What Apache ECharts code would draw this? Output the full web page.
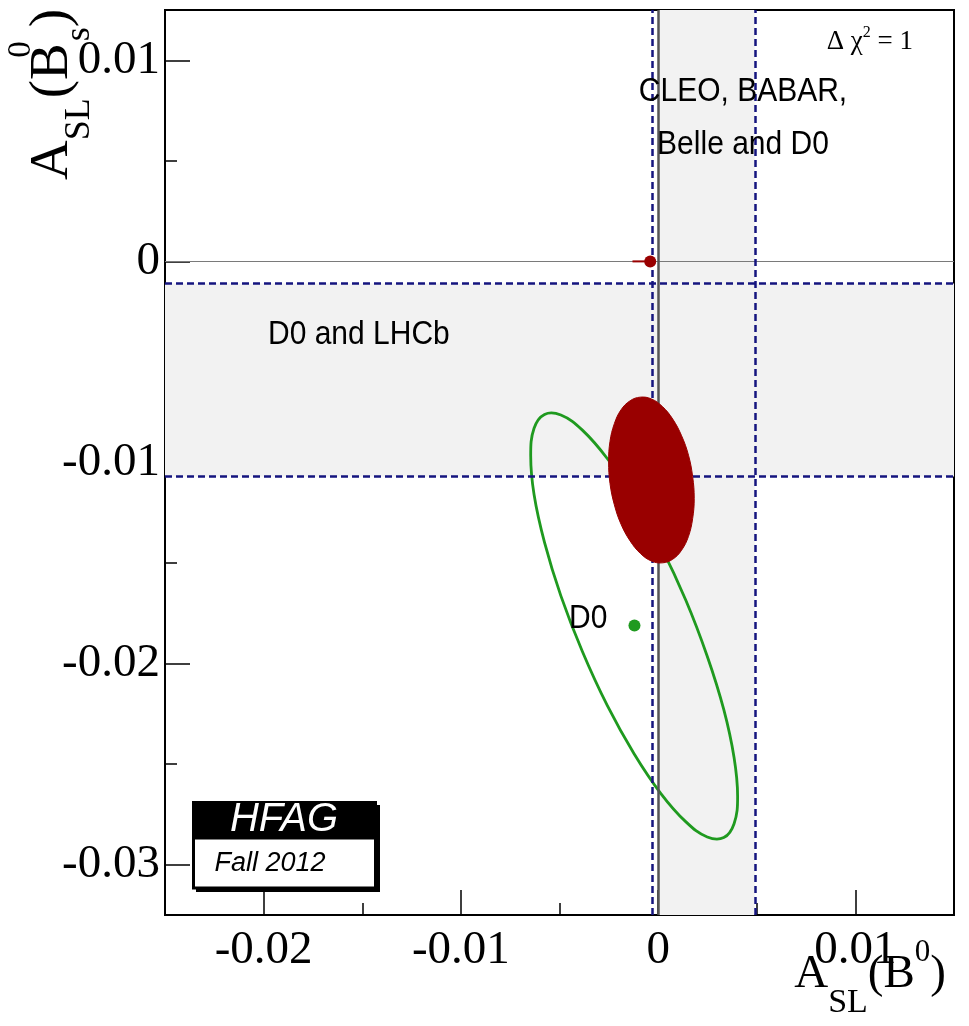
<!DOCTYPE html>
<html><head><meta charset="utf-8">
<script src="https://cdn.jsdelivr.net/npm/echarts@6/dist/echarts.min.js"></script>
<style>html,body{margin:0;padding:0;background:#fff}#c{width:969px;height:1026px}</style>
</head><body><div id="c"></div>
<script>
// ---- axes ----
const xRange = [-0.025, 0.015];
const yRange = [-0.0325, 0.0125];
const xMajorTicks = [-0.02, -0.01, 0, 0.01];
const xMajorLabels = ['-0.02', '-0.01', '0', '0.01'];
const xMinorTicks = [-0.015, -0.005, 0.005];
const yMajorTicks = [-0.03, -0.02, -0.01, 0, 0.01];
const yMajorLabels = ['-0.03', '-0.02', '-0.01', '0', '0.01'];
const yMinorTicks = [-0.025, -0.015, -0.005, 0.005];

// ---- measurements ----
const cleoBand = [-0.0003, 0.0049];      // A_SL(B0): CLEO, BABAR, Belle and D0
const d0LhcbBand = [-0.0107, -0.0011];   // A_SL(Bs): D0 and LHCb
const smPoint = [[-0.0004, 0.0]];
const smTail = [[-0.0013, 0.0], [-0.0004, 0.0]];
const d0Point = [[-0.0012, -0.0181]];
const d0Contour = [
  [0.00403,-0.02660],[0.00385,-0.02796],[0.00333,-0.02865],[0.00249,-0.02862],
  [0.00141,-0.02787],[0.00014,-0.02646],[-0.00122,-0.02448],[-0.00258,-0.02208],
  [-0.00384,-0.01940],[-0.00493,-0.01663],[-0.00576,-0.01397],[-0.00629,-0.01159],
  [-0.00646,-0.00966],[-0.00629,-0.00830],[-0.00576,-0.00761],[-0.00493,-0.00764],
  [-0.00384,-0.00839],[-0.00258,-0.00980],[-0.00122,-0.01177],[0.00014,-0.01418],
  [0.00141,-0.01686],[0.00249,-0.01963],[0.00333,-0.02229],[0.00385,-0.02467]
];
const combinedContour = [
  [0.00183,-0.01178],[0.00175,-0.01279],[0.00154,-0.01367],[0.00119,-0.01436],
  [0.00074,-0.01481],[0.00022,-0.01499],[-0.00034,-0.01490],[-0.00090,-0.01452],
  [-0.00142,-0.01390],[-0.00188,-0.01307],[-0.00222,-0.01210],[-0.00244,-0.01104],
  [-0.00251,-0.00996],[-0.00244,-0.00895],[-0.00222,-0.00807],[-0.00188,-0.00738],
  [-0.00142,-0.00693],[-0.00090,-0.00675],[-0.00034,-0.00684],[0.00022,-0.00722],
  [0.00074,-0.00784],[0.00119,-0.00867],[0.00154,-0.00964],[0.00175,-0.01070]
];

const RED = '#990000', GREEN = '#1f9a1f', NAVY = '#15157f', BAND = '#f2f2f2';
const SERIF = 'Liberation Serif', SANS = 'Liberation Sans';

function labelFor(ticks, labels) {
  return v => { const i = ticks.findIndex(t => Math.abs(t - v) < 1e-9); return i >= 0 ? labels[i] : ''; };
}
function contour(points, fill, stroke, lw) {
  return function (params, api) {
    if (params.dataIndex !== 0) return null;
    return { type: 'polygon', shape: { points: points.map(p => api.coord(p)), smooth: 0.4 },
             style: { fill: fill, stroke: stroke, lineWidth: lw } };
  };
}

const chart = echarts.init(document.getElementById('c'), null, { renderer: 'canvas' });
const tickStyle = { color: '#000', width: 1.5 };
function xAx(extra) { return Object.assign({ type: 'value', min: xRange[0], max: xRange[1], position: 'bottom', splitLine: { show: false } }, extra); }
function yAx(extra) { return Object.assign({ type: 'value', min: yRange[0], max: yRange[1], position: 'left', splitLine: { show: false } }, extra); }
chart.setOption({
  animation: false,
  backgroundColor: '#fff',
  grid: { left: 165, top: 10, right: 15, bottom: 111, show: true, borderColor: '#000', borderWidth: 2, backgroundColor: 'transparent' },
  xAxis: [
    xAx({ axisLine: { show: true, onZero: false, lineStyle: { color: '#000', width: 2 } },
      axisTick: { show: true, inside: true, length: 25, lineStyle: tickStyle, customValues: xMajorTicks },
      axisLabel: { show: true, customValues: xMajorTicks, formatter: labelFor(xMajorTicks, xMajorLabels),
        fontFamily: SERIF, fontSize: 47, color: '#000', margin: 12 } }),
    xAx({ axisLine: { show: false, onZero: false }, axisLabel: { show: false },
      axisTick: { show: true, inside: true, length: 12, lineStyle: tickStyle, customValues: xMinorTicks } })
  ],
  yAxis: [
    yAx({ axisLine: { show: true, onZero: false, lineStyle: { color: '#000', width: 2 } },
      axisTick: { show: true, inside: true, length: 25, lineStyle: tickStyle, customValues: yMajorTicks },
      axisLabel: { show: true, customValues: yMajorTicks, formatter: labelFor(yMajorTicks, yMajorLabels),
        fontFamily: SERIF, fontSize: 47, color: '#000', margin: 5 } }),
    yAx({ axisLine: { show: false, onZero: false }, axisLabel: { show: false },
      axisTick: { show: true, inside: true, length: 12, lineStyle: tickStyle, customValues: yMinorTicks } })
  ],
  series: [
    { // bands
      type: 'line', data: [], z: 1, silent: true,
      markArea: { silent: true, itemStyle: { color: BAND, opacity: 1 },
        data: [
          [{ xAxis: 0 }, { xAxis: cleoBand[1] }],
          [{ yAxis: d0LhcbBand[1] }, { yAxis: d0LhcbBand[0] }]
        ] }
    },
    { // zero lines
      type: 'line', data: [], z: 2, silent: true,
      markLine: { silent: true, symbol: 'none', precision: 8, label: { show: false }, animation: false,
        data: [
          { yAxis: 0, lineStyle: { color: '#7a7a7a', width: 1.2, type: 'solid' } },
          { xAxis: 0, lineStyle: { color: '#555', width: 2.5, type: 'solid' } }
        ] }
    },
    { // band edges
      type: 'line', data: [], z: 3, silent: true,
      markLine: { silent: true, symbol: 'none', precision: 8, label: { show: false }, animation: false,
        lineStyle: { color: NAVY, width: 2.5, type: [7, 4] },
        data: [
          { xAxis: cleoBand[0] }, { xAxis: cleoBand[1] },
          { yAxis: d0LhcbBand[0] }, { yAxis: d0LhcbBand[1] }
        ] }
    },
    { type: 'custom', data: d0Contour, z: 4, silent: true, renderItem: contour(d0Contour, 'none', GREEN, 2.8) },
    { type: 'custom', data: combinedContour, z: 5, silent: true, renderItem: contour(combinedContour, RED, RED, 1) },
    { type: 'scatter', data: d0Point, z: 6, symbol: 'circle', symbolSize: 12, itemStyle: { color: GREEN, opacity: 1 }, silent: true },
    { type: 'line', data: smTail, z: 6, symbol: 'none', lineStyle: { color: RED, width: 2 }, silent: true },
    { type: 'scatter', data: smPoint, z: 7, symbol: 'circle', symbolSize: 12, itemStyle: { color: RED, opacity: 1 }, silent: true }
  ],
  graphic: [
    { type: 'text', z: 100, x: 913, y: 42, style: {
        text: '{a|Δ χ}{sup|2}{a| = 1}', align: 'right', verticalAlign: 'middle',
        rich: { a: { fontFamily: SERIF, fontSize: 27, lineHeight: 40, fill: '#000' },
                sup: { fontFamily: SERIF, fontSize: 16, height: 22, verticalAlign: 'top', fill: '#000' } } } },
    { type: 'text', z: 100, x: 743, y: 118, scaleY: 1.12, style: {
        text: 'CLEO, BABAR,\nBelle and D0', align: 'center', verticalAlign: 'middle',
        fontFamily: SANS, fontSize: 30, lineHeight: 47, fill: '#000' } },
    { type: 'text', z: 100, x: 268, y: 335, scaleY: 1.12, style: {
        text: 'D0 and LHCb', align: 'left', verticalAlign: 'middle', fontFamily: SANS, fontSize: 30, fill: '#000' } },
    { type: 'text', z: 100, x: 569, y: 619, scaleY: 1.12, style: {
        text: 'D0', align: 'left', verticalAlign: 'middle', fontFamily: SANS, fontSize: 30, fill: '#000' } },
    // HFAG logo
    { type: 'rect', z: 100, shape: { x: 196, y: 805, width: 184, height: 87 }, style: { fill: '#000' } },
    { type: 'rect', z: 101, shape: { x: 192, y: 801, width: 185, height: 37 }, style: { fill: '#000' } },
    { type: 'rect', z: 101, shape: { x: 193.5, y: 838, width: 182, height: 50 }, style: { fill: '#fff', stroke: '#000', lineWidth: 3 } },
    { type: 'text', z: 102, x: 284, y: 820, style: { text: 'HFAG', align: 'center', verticalAlign: 'middle',
        fontFamily: SANS, fontStyle: 'italic', fontSize: 40, fill: '#fff' } },
    { type: 'text', z: 102, x: 270, y: 863, style: { text: 'Fall 2012', align: 'center', verticalAlign: 'middle',
        fontFamily: SANS, fontStyle: 'italic', fontSize: 27, fill: '#000' } },
    // axis titles
    { type: 'text', z: 100, x: 946, y: 975, style: {
        text: '{a|A}{sub|SL}{a|(B}{sup|0}{a|)}', align: 'right', verticalAlign: 'middle',
        rich: { a: { fontFamily: SERIF, fontSize: 47, lineHeight: 100, fill: '#000' },
                sub: { fontFamily: SERIF, fontSize: 34, height: 44, verticalAlign: 'bottom', fill: '#000' },
                sup: { fontFamily: SERIF, fontSize: 31, height: 56, verticalAlign: 'top', fill: '#000' } } } },
    { type: 'text', z: 100, x: 53, y: 9, rotation: Math.PI / 2, style: {
        text: '{a|A}{sub|SL}{a|(B}{sup|0}{sub|s}{a|)}', align: 'right', verticalAlign: 'middle',
        rich: { a: { fontFamily: SERIF, fontSize: 55, lineHeight: 100, fill: '#000' },
                sub: { fontFamily: SERIF, fontSize: 36, height: 46, verticalAlign: 'bottom', fill: '#000' },
                sup: { fontFamily: SERIF, fontSize: 33, height: 36, width: 2, verticalAlign: 'top', fill: '#000' } } } }
  ]
});
</script></body></html>
